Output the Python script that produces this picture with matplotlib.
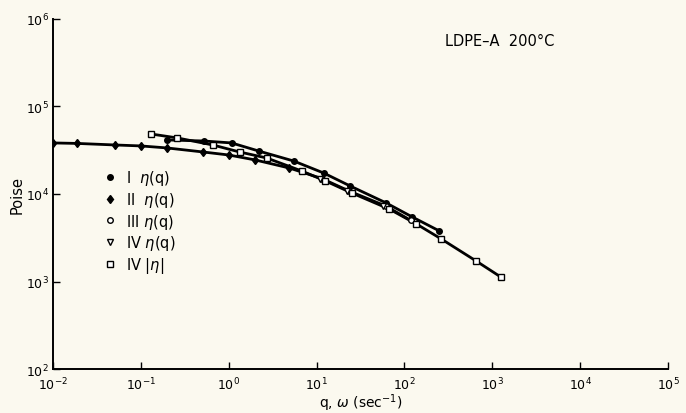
import numpy as np
import matplotlib.pyplot as plt

# viscosity curves, LDPE-A at 200 C
q_I = [0.2, 0.52, 1.08, 2.19, 5.5, 12, 24.3, 62, 123, 250]
eta_I = [41400, 40300, 38300, 31000, 23800, 17400, 12300, 7900, 5460, 3780]

q_II = [0.01, 0.019, 0.051, 0.1, 0.197, 0.51, 1.0, 2.0, 4.9]
eta_II = [38300, 37800, 36300, 35400, 33600, 30200, 27900, 24500, 19800]

q_III = [11.5, 23.5, 61, 118]
eta_III = [15000, 10800, 7300, 5000]

q_IVq = [11, 22, 57]
eta_IVq = [14900, 10700, 7200]

q_IVabs = [0.13, 0.26, 0.66, 1.33, 2.7, 6.8, 12.6, 25, 67, 137, 263, 658, 1260]
eta_IVabs = [48500, 43700, 36300, 30200, 25800, 18300, 14100, 10300, 6740, 4540, 3060, 1710, 1120]

bg = '#fbf9ef'
fig = plt.figure(figsize=(6.86, 4.14), dpi=100, facecolor=bg)
ax = fig.add_axes([0.077, 0.106, 0.897, 0.846], facecolor=bg)

# curves
ax.plot(q_I, eta_I, color='black', lw=2, zorder=2)
ax.plot(q_II + q_III, eta_II + eta_III, color='black', lw=2, zorder=2)
ax.plot(q_IVabs, eta_IVabs, color='black', lw=2, zorder=2)

# markers
ax.plot(q_I, eta_I, 'o', ms=4, color='black', ls='none', label=r'I  $\eta$(q)', zorder=3)
ax.plot(q_II, eta_II, 'd', ms=4.5, color='black', ls='none', label=r'II  $\eta$(q)', zorder=3)
ax.plot(q_III, eta_III, 'o', ms=4, mfc='white', mec='black', ls='none', label=r'III $\eta$(q)', zorder=3)
ax.plot(q_IVq, eta_IVq, 'v', ms=4.5, mfc='white', mec='black', ls='none', label=r'IV $\eta$(q)', zorder=3)
ax.plot(q_IVabs, eta_IVabs, 's', ms=4, mfc='white', mec='black', ls='none', label=r'IV |$\eta$|', zorder=3)

ax.set_xscale('log')
ax.set_yscale('log')
ax.set_xlim(1e-2, 1e5)
ax.set_ylim(1e2, 1e6)
ax.set_xticks([10.0**k for k in range(-2, 6)])
ax.set_yticks([10.0**k for k in range(2, 7)])
ax.minorticks_off()
ax.tick_params(direction='in', length=5, width=1, labelsize=9)
ax.tick_params(axis='x', pad=5)
ax.tick_params(axis='y', pad=3)

for s in ['top', 'right']:
    ax.spines[s].set_visible(False)
for s in ['left', 'bottom']:
    ax.spines[s].set_linewidth(1.4)

ax.set_ylabel('Poise', fontsize=10.5, labelpad=1)
ax.set_xlabel(r'q, $\omega$ (sec$^{-1}$)', fontsize=10)
ax.xaxis.set_label_coords(0.5, -0.063)

ax.text(0.637, 0.937, 'LDPE\u2013A  200\u00b0C', transform=ax.transAxes,
        fontsize=10.5, va='center')

leg = ax.legend(loc='upper left', bbox_to_anchor=(0.085, 0.575), frameon=False,
                handlelength=0.6, handletextpad=0.8, labelspacing=0.2, fontsize=10.5,
                borderaxespad=0, borderpad=0)

fig.savefig('out.png', dpi=100, facecolor=bg)
